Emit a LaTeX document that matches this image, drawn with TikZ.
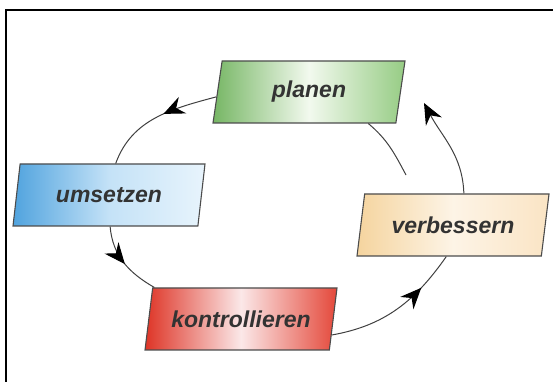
\documentclass[tikz,border=0pt]{standalone}
\usepackage{fontspec}
\setmainfont{Liberation Sans}
\usetikzlibrary{shapes.geometric,arrows.meta,decorations.markings}

\definecolor{grnl}{RGB}{118,182,100}
\definecolor{grnm}{RGB}{242,249,238}
\definecolor{grnr}{RGB}{150,204,132}
\definecolor{blul}{RGB}{80,163,222}
\definecolor{blum}{RGB}{196,226,247}
\definecolor{blur}{RGB}{232,244,252}
\definecolor{redl}{RGB}{222,52,38}
\definecolor{redm}{RGB}{251,232,232}
\definecolor{redr}{RGB}{228,72,58}
\definecolor{orgl}{RGB}{245,212,158}
\definecolor{orgm}{RGB}{253,244,230}
\definecolor{orgr}{RGB}{250,228,196}

\begin{document}
\begin{tikzpicture}[x=1pt,y=1pt,
    box/.style={trapezium, trapezium left angle=72, trapezium right angle=108,
        trapezium stretches body, minimum width=192pt, minimum height=62pt,
        draw=black!70, line width=1.1pt,
        font=\fontsize{23}{28}\selectfont\bfseries\itshape, text=black!80},
    link/.style={draw=black!75, line width=1pt},
    headtip/.style={-{Stealth[length=21pt,width=18pt,inset=7pt,color=black]}},
    midtip/.style={postaction={decorate}, decoration={markings,
        mark=at position #1 with {\arrow[black]{Stealth[length=21pt,width=18pt,inset=7pt]}}}}]
    \useasboundingbox (0,0) rectangle (553,382);
    \draw[line width=1.2pt] (6,0) -- (6,372) -- (553,372);

    \node[box, left color=grnl, right color=grnr, middle color=grnm] (plan) at (309,290) {planen};
    \node[box, left color=blul, right color=blur, middle color=blum] (umset) at (109,187) {umsetzen};
    \node[box, left color=redl, right color=redr, middle color=redm] (kontr) at (241,63) {kontrollieren};
    \node[box, left color=orgl, right color=orgr, middle color=orgm] (verb) at (453,157) {verbessern};

    \coordinate (t4) at (424,279);
    \coordinate (e5) at (406,207);

    \draw[link, midtip=0.44] (plan.183) to[out=195, in=70] (umset.78);
    \draw[link, midtip=0.52] (umset.272) to[out=-85, in=150] (kontr.160);
    \draw[link, midtip=0.72] (kontr.-10) to[out=10, in=235] (verb.258);
    \draw[link, headtip] (verb.71) to[out=92, in=-62] (t4);
    \draw[link] (plan.-28) to[out=-40, in=118] (e5);
\end{tikzpicture}
\end{document}
